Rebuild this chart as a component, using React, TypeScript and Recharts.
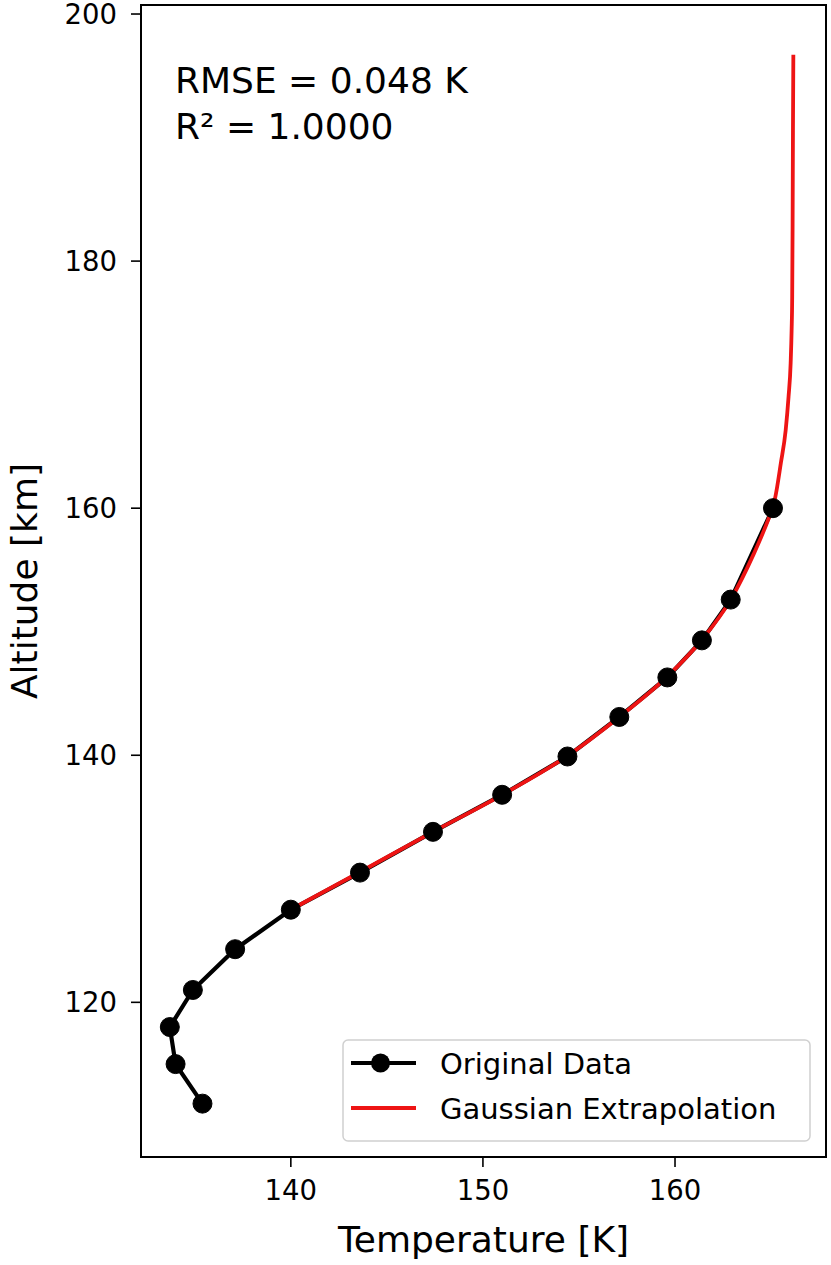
import React from "react";
import { ComposedChart, Line, XAxis, YAxis, ReferenceArea, Legend, Label } from "recharts";

// original profile (temperature K vs altitude km)
const TEMP_OBS = [135.4, 134.0, 133.7, 134.9, 137.1, 140.0, 143.6, 147.4, 151.0, 154.4, 157.1, 159.6, 161.4, 162.9, 165.1];
const ALT_OBS = [111.8, 115.0, 118.0, 121.0, 124.3, 127.5, 130.5, 133.8, 136.8, 139.9, 143.1, 146.3, 149.3, 152.6, 160.0];

// gaussian extrapolation curve
const TEMP_FIT = [140.0, 143.6, 147.4, 151.0, 154.35, 157.1, 159.55, 161.4, 162.9, 164.1, 164.63, 165.08, 165.22, 165.51, 165.76, 165.91, 166.02, 166.07, 166.1, 166.12, 166.14, 166.16];
const ALT_FIT = [127.5, 130.55, 133.8, 136.8, 139.9, 143.1, 146.3, 149.35, 152.6, 156.3, 158.2, 160.1, 160.9, 163.65, 166.3, 169.0, 171.75, 174.4, 177.1, 182.5, 190.6, 196.7];

const X_TICKS = [140, 150, 160];
const Y_TICKS = [120, 140, 160, 180, 200];
const X_DOMAIN: [number, number] = [132.2, 167.86];
const Y_DOMAIN: [number, number] = [107.48, 200.73];

const SERIES_NAMES = ["Original Data", "Gaussian Extrapolation"];
const STATS = ["RMSE = 0.048 K", "R\u00b2 = 1.0000"];

const FONT = "DejaVu Sans, sans-serif";
const RED = "#ee1414";

const obsData = TEMP_OBS.map((t, i) => ({ temp: t, alt: ALT_OBS[i] }));
const fitData = TEMP_FIT.map((t, i) => ({ temp: t, alt: ALT_FIT[i] }));

function XTick({ x, y, payload }: any) {
  return (
    <text x={x} y={y + 31} textAnchor="middle" fontFamily={FONT} fontSize={27.5} fill="#000">
      {payload.value}
    </text>
  );
}

function YTick({ x, y, payload }: any) {
  return (
    <text x={x} y={y + 10} textAnchor="end" fontFamily={FONT} fontSize={27.5} fill="#000">
      {payload.value}
    </text>
  );
}

function XTitle({ viewBox }: any) {
  return (
    <text x={viewBox.x + viewBox.width / 2} y={viewBox.y + 95} textAnchor="middle" fontFamily={FONT} fontSize={36} fill="#000">
      Temperature [K]
    </text>
  );
}

function YTitle({ viewBox }: any) {
  const cx = viewBox.x + 37;
  const cy = viewBox.y + viewBox.height / 2;
  return (
    <text x={cx} y={cy} transform={`rotate(-90 ${cx} ${cy})`} textAnchor="middle" fontFamily={FONT} fontSize={36} fill="#000">
      Altitude [km]
    </text>
  );
}

function LegendBox() {
  return (
    <svg width={470} height={104} style={{ display: "block" }}>
      <rect x={1} y={1} width={467} height={101} rx={5} fill="#fff" fillOpacity={0.8} stroke="#d0d0d0" strokeWidth={1.5} />
      <line x1={9} x2={74} y1={24} y2={24} stroke="#000" strokeWidth={4} />
      <circle cx={38.5} cy={24} r={9.5} fill="#000" />
      <text x={98} y={34.5} fontFamily={FONT} fontSize={29} fill="#000">
        {SERIES_NAMES[0]}
      </text>
      <line x1={9} x2={74} y1={69} y2={69} stroke={RED} strokeWidth={4} />
      <text x={98} y={80} fontFamily={FONT} fontSize={29} fill="#000">
        {SERIES_NAMES[1]}
      </text>
    </svg>
  );
}

export default function App() {
  return (
    <div style={{ position: "absolute", left: 0, top: 0, width: 831, height: 1265, background: "#fff" }}>
      <ComposedChart width={831} height={1265} margin={{ top: 5, right: 5, bottom: 0, left: 0 }}>
        <XAxis
          type="number"
          dataKey="temp"
          domain={X_DOMAIN}
          ticks={X_TICKS}
          allowDataOverflow
          height={108}
          tickSize={10}
          tickMargin={2}
          axisLine={{ stroke: "#000", strokeWidth: 2 }}
          tickLine={{ stroke: "#000", strokeWidth: 1.6 }}
          tick={<XTick />}
        >
          <Label content={<XTitle />} />
        </XAxis>
        <YAxis
          type="number"
          dataKey="alt"
          domain={Y_DOMAIN}
          ticks={Y_TICKS}
          allowDataOverflow
          width={141}
          tickSize={10}
          tickMargin={14}
          axisLine={{ stroke: "#000", strokeWidth: 2 }}
          tickLine={{ stroke: "#000", strokeWidth: 1.6 }}
          tick={<YTick />}
        >
          <Label content={<YTitle />} />
        </YAxis>
        <ReferenceArea
          x1={X_DOMAIN[0]}
          x2={X_DOMAIN[1]}
          y1={Y_DOMAIN[0]}
          y2={Y_DOMAIN[1]}
          fill="none"
          stroke="#000"
          strokeWidth={2}
        />
        <Line
          data={obsData}
          dataKey="alt"
          name={SERIES_NAMES[0]}
          type="linear"
          stroke="#000"
          strokeWidth={4.2}
          dot={{ r: 9.5, fill: "#000", stroke: "#000", strokeWidth: 1 }}
          activeDot={false}
          isAnimationActive={false}
        />
        <Line
          data={fitData}
          dataKey="alt"
          name={SERIES_NAMES[1]}
          type="monotone"
          stroke={RED}
          strokeWidth={3.8}
          dot={false}
          activeDot={false}
          isAnimationActive={false}
        />
        <Legend
          layout="vertical"
          align="center"
          verticalAlign="middle"
          content={<LegendBox />}
          wrapperStyle={{ left: 342, top: 1039, width: 470, height: 104 }}
        />
      </ComposedChart>
      <svg width={831} height={1265} style={{ position: "absolute", left: 0, top: 0, pointerEvents: "none" }}>
        <text x={175} y={93} fontFamily={FONT} fontSize={36} fill="#000">
          {STATS[0]}
        </text>
        <text x={175} y={139} fontFamily={FONT} fontSize={36} fill="#000">
          {STATS[1]}
        </text>
      </svg>
    </div>
  );
}
